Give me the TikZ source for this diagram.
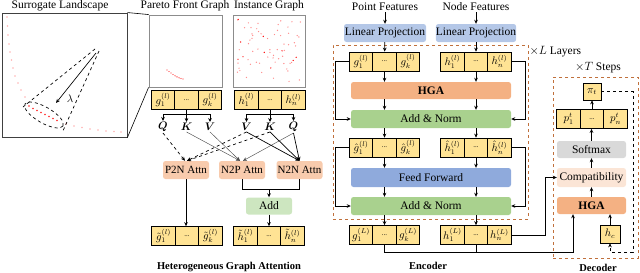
\documentclass[tikz,border=0pt]{standalone}
\usepackage{amsmath,bm}
\usepackage{fontspec}
\setmainfont{Liberation Serif}
\usepackage{tikz}
\usetikzlibrary{arrows.meta}
\definecolor{featyellow}{HTML}{FFE394}
\definecolor{attnpink}{HTML}{F8CBAD}
\definecolor{addgreen}{HTML}{CDE6C0}
\definecolor{normgreen}{HTML}{A9D18E}
\definecolor{hgaorange}{HTML}{F4B183}
\definecolor{ffblue}{HTML}{8FAADC}
\definecolor{projblue}{HTML}{B4C7E7}
\definecolor{compatpeach}{HTML}{FBE5D6}
\definecolor{softgrey}{HTML}{D9D9D9}
\definecolor{loopbrown}{HTML}{C0703C}
\definecolor{panelgrey}{HTML}{8C8C8C}
% three-cell feature row: name, centre x, centre y, first label, last label
\newcommand{\featrow}[5]{%
  \node[cell] (#1-1) at ({#2-23.5},#3) {$#4$};
  \node[cell] (#1-2) at (#2,#3) {\fontsize{7}{8}\selectfont ...};
  \node[cell] (#1-3) at ({#2+23.5},#3) {$#5$};}

\begin{document}
\begin{tikzpicture}[x=1pt,y=-1pt,
  lbl/.style={font=\fontsize{11.5}{13}\selectfont,inner sep=1pt},
  ttl/.style={font=\bfseries\fontsize{10.5}{12}\selectfont,inner sep=1pt},
  cell/.style={draw=black,fill=featyellow,line width=0.7pt,minimum width=23.5pt,minimum height=19pt,inner sep=0pt,font=\fontsize{10.5}{12}\selectfont},
  blk/.style={rounded corners=2.5pt,inner sep=0pt,font=\fontsize{11.5}{13}\selectfont},
  attn/.style={blk,fill=attnpink,minimum width=46pt,minimum height=18pt,font=\fontsize{11}{13}\selectfont},
  addbox/.style={blk,fill=addgreen,minimum width=46pt,minimum height=17pt},
  proj/.style={blk,fill=projblue,minimum height=18pt},
  hga/.style={blk,fill=hgaorange,minimum height=17pt,font=\bfseries\fontsize{11.5}{13}\selectfont},
  norm/.style={blk,fill=normgreen,minimum width=160pt,minimum height=18pt},
  ffn/.style={blk,fill=ffblue,minimum width=160pt,minimum height=19pt},
  soft/.style={blk,fill=softgrey,minimum width=69pt,minimum height=17pt},
  compat/.style={blk,fill=compatpeach,minimum width=69pt,minimum height=19pt},
  loopframe/.style={draw=loopbrown,dashed,line width=0.8pt,inner sep=0pt},
  panel/.style={draw=panelgrey,line width=0.9pt,inner sep=0pt},
  qkv/.style={inner sep=1pt,font=\fontsize{11}{13}\selectfont},
  arr/.style={-{Stealth[length=4pt,width=3.6pt]},line width=0.7pt}]
\useasboundingbox (0,0) rectangle (640,273);

% surrogate landscape and the two graphs
\node[lbl] (tland) at (60,6) {Surrogate Landscape};
\node[panel,draw=black!75,minimum width=125pt,minimum height=124pt] (land) at (64.5,75) {};
\node[lbl] (tpf) at (185,6) {Pareto Front Graph};
\node[panel,minimum width=73pt,minimum height=72pt] (pf) at (185.5,51) {};
\node[lbl] (tig) at (269,6) {Instance Graph};
\node[panel,minimum width=72pt,minimum height=72pt] (ig) at (269,51) {};
\draw[line width=0.6pt] (land.north east) -- (pf.north west);
\draw[line width=0.6pt] (land.south east) -- (pf.south west);
\foreach \px/\py in {7/17,7.5/26,8/35,9/44,10/52,11.5/60,13/68,15/76,18/83,21/90,25/97,
    66/124,74/126,82/127.5,90/129,98/130,106/131,114/131.5,121/132}
  \fill[red!30] (\px,\py) circle[radius=0.9pt];
\foreach \px/\py in {29/106,33/108.5,37/110.5,41/112.5,45/114.5,49/116.5,53/118.5,57/120.5}
  \fill[red!85] (\px,\py) circle[radius=0.9pt];
\draw[dashed,line width=0.7pt,rotate around={-30:(44,115)}] (44,115) ellipse[x radius=22pt,y radius=8pt];
\draw[dashed,line width=0.7pt] (95,49) -- (23,107);
\draw[dashed,line width=0.7pt] (99,51) -- (62,133);
\draw[arr] (96,53) -- (56,103);
\node[qkv] (lam) at (70,99) {$\lambda$};
\foreach \px/\py in {167/70,169/71.5,171/73,173/74.5,175/75.8,177/76.9,179/77.8,181/78.5,183/79}
  \fill[red!80] (\px,\py) circle[radius=0.7pt];
\pgfmathsetseed{11}
\foreach \i in {1,...,60}
  \fill[red!45] ({237+64*rnd},{19+64*rnd}) circle[radius=0.7pt];
\foreach \i in {1,...,10}
  \fill[red] ({237+64*rnd},{19+64*rnd}) circle[radius=0.7pt];

% heterogeneous graph attention
\featrow{pg}{186.5}{100}{g_1^{(l)}}{g_k^{(l)}}
\featrow{ph}{270}{100}{h_1^{(l)}}{h_n^{(l)}}
\node[qkv] (gq) at (163,127) {$\bm{Q}$};
\node[qkv] (gk) at (186.5,127) {$\bm{K}$};
\node[qkv] (gv) at (210,127) {$\bm{V}$};
\node[qkv] (hv) at (246.5,127) {$\bm{V}$};
\node[qkv] (hk) at (270,127) {$\bm{K}$};
\node[qkv] (hq) at (293.5,127) {$\bm{Q}$};
\coordinate (pgbar) at (186.5,114);
\coordinate (phbar) at (270,114);
\draw[line width=0.7pt] (pg-2.south) -- (pgbar);
\draw[line width=0.7pt] (pgbar -| gq) -- (pgbar -| gv);
\draw[line width=0.7pt] (ph-2.south) -- (phbar);
\draw[line width=0.7pt] (phbar -| hv) -- (phbar -| hq);
\foreach \t in {gq,gk,gv,hv,hk,hq}
  \draw[arr] (pgbar -| \t) -- (\t.north);
\node[attn] (p2n) at (186,170) {P2N Attn};
\node[attn] (n2p) at (242,170) {N2P Attn};
\node[attn] (n2n) at (299.5,170) {N2N Attn};
\draw[arr,dashed] (gq.south) -- ([xshift=-1pt]p2n.north);
\draw[arr,dashed] (hv.south) -- ([xshift=1pt]p2n.north);
\draw[arr,dashed] (hk.south) -- ([xshift=1pt]p2n.north);
\draw[arr,line width=0.45pt,black!70] (gk.south) -- ([xshift=-2pt]n2p.north);
\draw[arr,line width=0.45pt,black!70] (gv.south) -- ([xshift=-2pt]n2p.north);
\draw[arr,line width=0.45pt,black!70] (hq.south) -- ([xshift=1pt]n2p.north);
\draw[arr] (hv.south) -- (n2n.north);
\draw[arr] (hk.south) -- (n2n.north);
\draw[arr] (hq.south) -- (n2n.north);
\featrow{pt}{187}{236}{{\tilde{g}}_1^{(l)}}{{\tilde{g}}_k^{(l)}}
\featrow{pth}{269}{236}{{\tilde{h}}_1^{(l)}}{{\tilde{h}}_n^{(l)}}
\draw[arr] (p2n.south) -- (p2n.south |- pt-2.north);
\node[addbox] (add) at (269,206) {Add};
\coordinate (join) at (269,189);
\draw[line width=0.7pt] (n2p.south) |- (join);
\draw[line width=0.7pt] (n2n.south) |- (join);
\draw[arr] (join) -- (add.north);
\draw[arr] (add.south) -- (pth-2.north);
\node[ttl] (thga) at (229,267) {Heterogeneous Graph Attention};

% encoder
\node[lbl] (pfeat) at (385,7) {Point Features};
\node[lbl] (nfeat) at (476,7) {Node Features};
\node[proj,minimum width=82pt] (lp1) at (385,33) {Linear Projection};
\node[proj,minimum width=80pt] (lp2) at (476,33) {Linear Projection};
\node[loopframe,minimum width=195pt,minimum height=174pt] (enc) at (430.5,132) {};
\node[lbl,anchor=north west] (xl) at (enc.north east) {$\times L$ Layers};
\featrow{eg}{384.5}{61.5}{g_1^{(l)}}{g_k^{(l)}}
\featrow{eh}{476}{61.5}{h_1^{(l)}}{h_n^{(l)}}
\draw[arr] (pfeat) -- (lp1);
\draw[arr] (nfeat) -- (lp2);
\draw[arr] (lp1) -- (eg-2);
\draw[arr] (lp2) -- (eh-2);
\node[hga,minimum width=160pt] (hga) at (431,90.5) {HGA};
\node[norm] (an1) at (431,119) {Add \& Norm};
\draw[arr] (eg-2.south) -- (eg-2.south |- hga.north);
\draw[arr] (eh-2.south) -- (eh-2.south |- hga.north);
\draw[arr] (hga.south -| eg-2) -- (an1.north -| eg-2);
\draw[arr] (hga.south -| eh-2) -- (an1.north -| eh-2);
\draw[arr] (eg-1.west) -- ++(-14,0) |- (an1.west);
\draw[arr] (eh-3.east) -- ++(14,0) |- (an1.east);
\featrow{hg}{384.5}{147.5}{{\hat{g}}_1^{(l)}}{{\hat{g}}_k^{(l)}}
\featrow{hh}{476}{147.5}{{\hat{h}}_1^{(l)}}{{\hat{h}}_n^{(l)}}
\draw[arr] (an1.south -| hg-2) -- (hg-2.north);
\draw[arr] (an1.south -| hh-2) -- (hh-2.north);
\node[ffn] (ff) at (431,177.5) {Feed Forward};
\node[norm] (an2) at (431,206) {Add \& Norm};
\draw[arr] (hg-2.south) -- (hg-2.south |- ff.north);
\draw[arr] (hh-2.south) -- (hh-2.south |- ff.north);
\draw[arr] (ff.south -| hg-2) -- (an2.north -| hg-2);
\draw[arr] (ff.south -| hh-2) -- (an2.north -| hh-2);
\draw[arr] (hg-1.west) -- ++(-14,0) |- (an2.west);
\draw[arr] (hh-3.east) -- ++(14,0) |- (an2.east);
\featrow{og}{384.5}{235}{g_1^{(L)}}{g_k^{(L)}}
\featrow{oh}{476}{235}{h_1^{(L)}}{h_n^{(L)}}
\draw[arr] (an2.south -| og-2) -- (og-2.north);
\draw[arr] (an2.south -| oh-2) -- (oh-2.north);
\node[ttl] (tenc) at (428,266) {Encoder};

% decoder
\node[loopframe,minimum width=85pt,minimum height=181pt] (dec) at (595.5,167.5) {};
\node[lbl] (xt) at (598,68) {$\times T$ Steps};
\node[cell,minimum width=18pt,minimum height=17pt] (pi) at (592,91.5) {$\pi_t$};
\featrow{dp}{592}{119}{p_1^t}{p_n^t}
\node[soft] (sm) at (591.5,149.5) {Softmax};
\node[compat] (cp) at (591.5,177.5) {Compatibility};
\node[hga,minimum width=69pt] (dhga) at (591.5,205.5) {HGA};
\node[cell,minimum width=20pt,minimum height=18pt] (hc) at (610,234) {$h_c$};
\draw[arr] (dhga.north) -- (cp.south);
\draw[arr] (cp.north) -- (sm.south);
\draw[arr] (sm.north) -- (sm.north |- dp-2.south);
\draw[arr] (dp-2.north) -- (pi.south);
\draw[arr] (hc.north) -- (hc.north |- dhga.south);
\coordinate (loop) at (633,252);
\draw[arr,dashed] (pi.east) -| (loop) -| (hc.south);
\draw[arr] (oh-3.east) -- ++(34,0) |- (cp.west);
\coordinate (busend) at (573,252);
\draw[arr] (og-2.south) |- (busend) -- (busend |- dhga.south);
\draw[line width=0.7pt] (oh-2.south) -- (oh-2.south |- busend);
\node[ttl] (tdec) at (598,268) {Decoder};
\end{tikzpicture}
\end{document}
